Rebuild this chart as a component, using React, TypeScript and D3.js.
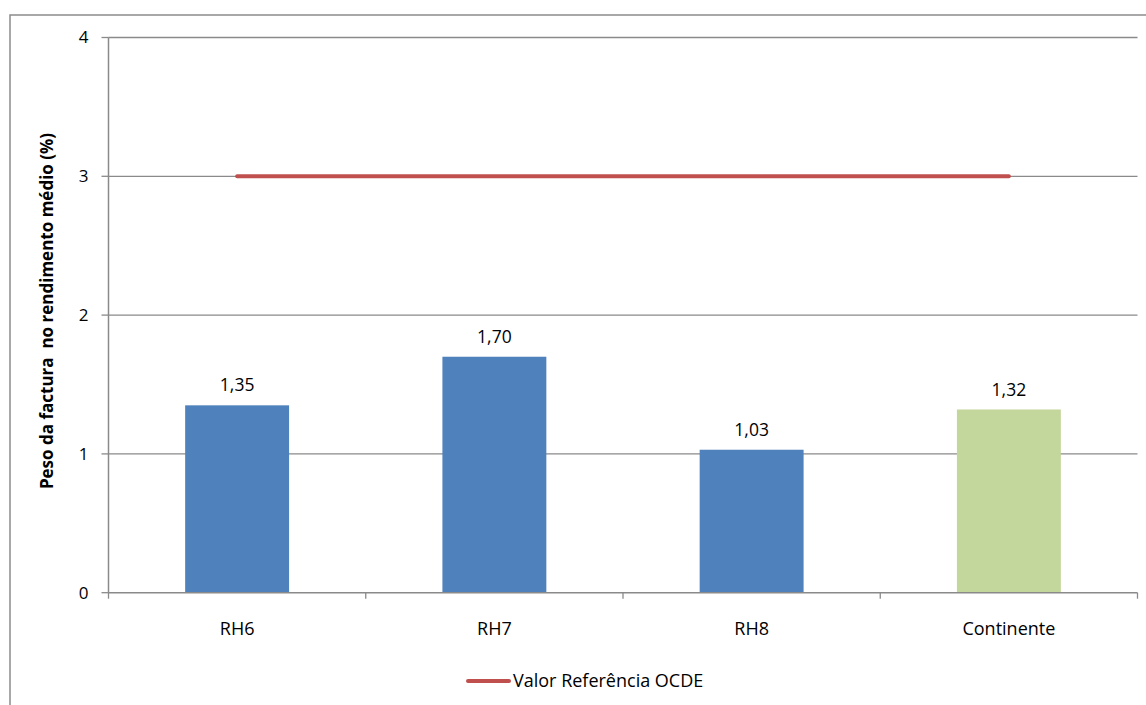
import { scaleBand, scaleLinear } from "d3";

const categories = ["RH6", "RH7", "RH8", "Continente"];
const values = [1.35, 1.7, 1.03, 1.32];
const refValues = [3, 3, 3, 3];
const yTicks = [0, 1, 2, 3, 4];
const legendLabel = "Valor Referência OCDE";
const axisTitle = "Peso da factura  no rendimento médio (%)";

const W = 1146;
const H = 705;
const left = 108.5;
const right = 1137.5;
const top = 37.5;
const bottom = 592.7;
const font = "'Open Sans', Lato, sans-serif";

const App = () => {
  const xScale = scaleBand().domain(categories).range([left, right]).paddingInner(0.596).paddingOuter(0.298);
  const band = scaleBand().domain(categories).range([left, right]);
  const yScale = scaleLinear().domain([0, 4]).range([bottom, top]);
  const fmt = (v: number) => v.toFixed(2).replace(".", ",");

  return (
    <svg width={W} height={H} style={{ position: "absolute", left: 0, top: 0, background: "#fff" }}>
      {/* outer chart frame */}
      <rect x={10} y={15} width={W + 10} height={H + 10} fill="none" stroke="#8c8c8c" strokeWidth={1.5} />

      {yTicks.slice(1).map((t) => (
        <line key={`g-${t}`} x1={left} x2={right} y1={yScale(t)} y2={yScale(t)} stroke="#8a8a8a" strokeWidth={1.3} />
      ))}
      {yTicks.map((t) => (
        <g key={`t-${t}`}>
          <line x1={left - 7} x2={left} y1={yScale(t)} y2={yScale(t)} stroke="#8a8a8a" strokeWidth={1.3} />
          <text x={left - 20} y={yScale(t)} dy="0.35em" textAnchor="end" fontFamily={font} fontSize={17} fill="#000">
            {t}
          </text>
        </g>
      ))}

      {categories.map((c, i) => (
        <rect
          key={`bar-${c}`}
          x={xScale(c)!}
          width={xScale.bandwidth()}
          y={yScale(values[i])}
          height={yScale(0) - yScale(values[i])}
          fill={c === "Continente" ? "#C3D69B" : "#4F81BD"}
        />
      ))}

      <line x1={left} x2={left} y1={top} y2={bottom} stroke="#8a8a8a" strokeWidth={1.5} />
      <line x1={left} x2={right} y1={bottom} y2={bottom} stroke="#8a8a8a" strokeWidth={1.5} />
      {categories.map((c) => (
        <line key={`xt-${c}`} x1={band(c)! + band.bandwidth()} x2={band(c)! + band.bandwidth()} y1={bottom} y2={bottom + 6} stroke="#8a8a8a" strokeWidth={1.3} />
      ))}
      <line x1={left} x2={left} y1={bottom} y2={bottom + 6} stroke="#8a8a8a" strokeWidth={1.3} />

      {categories.map((c, i) => (
        <text key={`vl-${c}`} x={xScale(c)! + xScale.bandwidth() / 2} y={yScale(values[i]) - 20} dy="0.35em" textAnchor="middle" fontFamily={font} fontSize={17.5} fill="#000">
          {fmt(values[i])}
        </text>
      ))}
      {categories.map((c) => (
        <text key={`cl-${c}`} x={band(c)! + band.bandwidth() / 2} y={629} dy="0.35em" textAnchor="middle" fontFamily={font} fontSize={18} fill="#000">
          {c}
        </text>
      ))}

      <path
        d={categories.map((c, i) => `${i === 0 ? "M" : "L"}${band(c)! + band.bandwidth() / 2},${yScale(refValues[i])}`).join("")}
        fill="none"
        stroke="#C0504D"
        strokeWidth={4}
        strokeLinecap="round"
      />

      <text
        transform={`translate(47,311) rotate(-90)`}
        textAnchor="middle"
        dy="0.35em"
        fontFamily={font}
        fontSize={17}
        fontWeight="bold"
        fill="#000"
        style={{ whiteSpace: "pre" }}
      >
        {axisTitle}
      </text>

      <line x1={468} x2={509} y1={681} y2={681} stroke="#C0504D" strokeWidth={4} strokeLinecap="round" />
      <text x={513} y={681} dy="0.35em" fontFamily={font} fontSize={18} fill="#000">
        {legendLabel}
      </text>
    </svg>
  );
};

export default App;
